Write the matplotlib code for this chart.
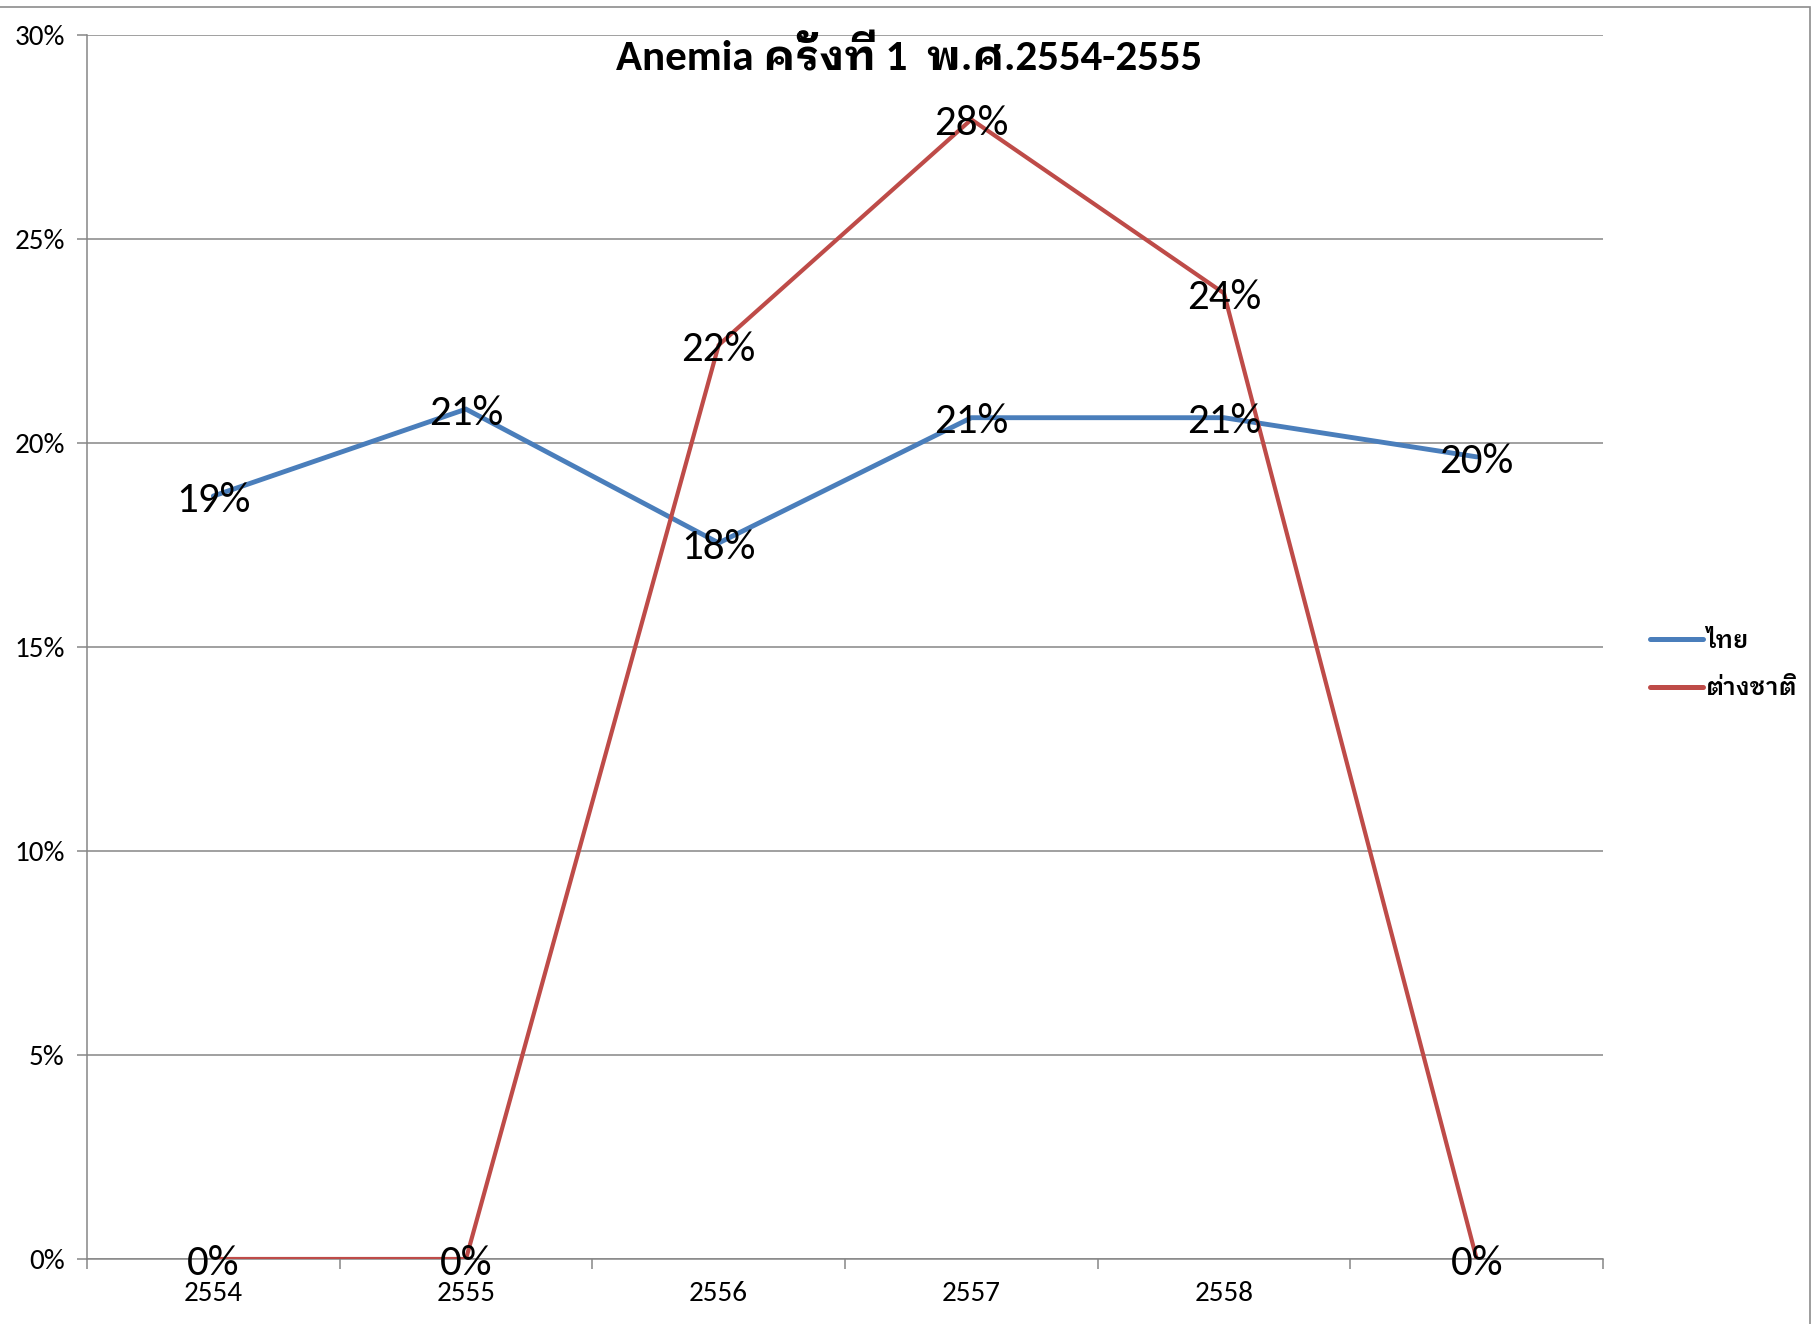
import matplotlib
matplotlib.use("Agg")
import matplotlib.pyplot as plt
from matplotlib import font_manager
from matplotlib.lines import Line2D
from matplotlib.patches import Rectangle

# ---- data ----
categories = ["2554", "2555", "2556", "2557", "2558", ""]
thai_values = [18.7, 20.83, 17.55, 20.62, 20.62, 19.66]
foreign_values = [0.0, 0.0, 22.4, 27.93, 23.67, 0.0]
series_names = ["ไทย", "ต่างชาติ"]
title_text = "Anemia ครั้งที่ 1  พ.ศ.2554-2555"
y_ticks = [0, 5, 10, 15, 20, 25, 30]

# ---- fonts ----
names = {f.name for f in font_manager.fontManager.ttflist}
def pick(cands):
    return [c for c in cands if c in names]
latin = pick(["Carlito", "Liberation Sans Narrow", "Open Sans", "DejaVu Sans"])[:1]
thai = pick(["IBM Plex Sans Thai Looped", "IBM Plex Sans Thai", "Noto Sans Thai",
             "Sarabun", "Anuphan", "FreeSerif"])[:1]
fam = latin + thai + ["DejaVu Sans"]
thai_first = thai + latin + ["DejaVu Sans"]
plt.rcParams["font.family"] = fam

W, H = 1818, 1324
fig = plt.figure(figsize=(W / 100, H / 100), dpi=100)
ax = fig.add_axes([87 / W, 1 - 1259 / H, (1603 - 87) / W, (1259 - 35) / H])

blue = "#4A7EBB"
red = "#BE4B48"
grid_c = "#868686"

x = [i + 0.5 for i in range(len(categories))]
ax.plot(x, thai_values, color=blue, lw=3.5, solid_capstyle="round",
        solid_joinstyle="miter", zorder=3)
ax.plot(x, foreign_values, color=red, lw=3.0, solid_capstyle="butt",
        solid_joinstyle="miter", zorder=3)

for vals in (thai_values, foreign_values):
    for xi, v in zip(x, vals):
        ax.annotate(f"{v:.0f}%", (xi, v), xytext=(0, -3), textcoords="offset points",
                    ha="center", va="center", fontsize=31, zorder=5)

ax.set_xlim(0, len(categories))
ax.set_ylim(0, 30)
ax.set_yticks(y_ticks)
ax.set_yticklabels([f"{t}%" for t in y_ticks])
ax.yaxis.grid(True, color=grid_c, lw=1.1)
ax.set_axisbelow(True)

ax.set_xticks(range(len(categories) + 1))
ax.set_xticklabels([])
ax.set_xticks(x, minor=True)
ax.set_xticklabels(categories, minor=True)
ax.tick_params(axis="x", which="major", length=7, width=1.1, color=grid_c, direction="out")
ax.tick_params(axis="x", which="minor", length=0, pad=16, labelsize=21)
ax.tick_params(axis="y", length=7, width=1.1, color=grid_c, direction="out",
               labelsize=21, pad=9)

for s in ["top", "right"]:
    ax.spines[s].set_visible(False)
for s in ["left", "bottom"]:
    ax.spines[s].set_color(grid_c)
    ax.spines[s].set_linewidth(1.1)

fig.text(909 / W, 1 - 57 / H, title_text, ha="center", va="center",
         fontsize=31, fontweight="bold")

handles = [Line2D([], [], color=blue, lw=3.6, solid_capstyle="round"),
           Line2D([], [], color=red, lw=3.6, solid_capstyle="round")]
fig.legend(handles, series_names, loc="center left",
           bbox_to_anchor=(1640 / W, 1 - 665 / H), frameon=False,
           prop={"family": thai_first, "size": 17.5, "weight": "semibold"},
           handlelength=2.2, handletextpad=0.12, labelspacing=1.0,
           borderaxespad=0)

fig.patches.append(Rectangle((-5 / W, -5 / H), 1818 / W - 3 / W, 1 - 7 / H + 5 / H,
                             transform=fig.transFigure, fill=False,
                             edgecolor="#8c8c8c", lw=1.2))

fig.savefig("out.png", dpi=100)
